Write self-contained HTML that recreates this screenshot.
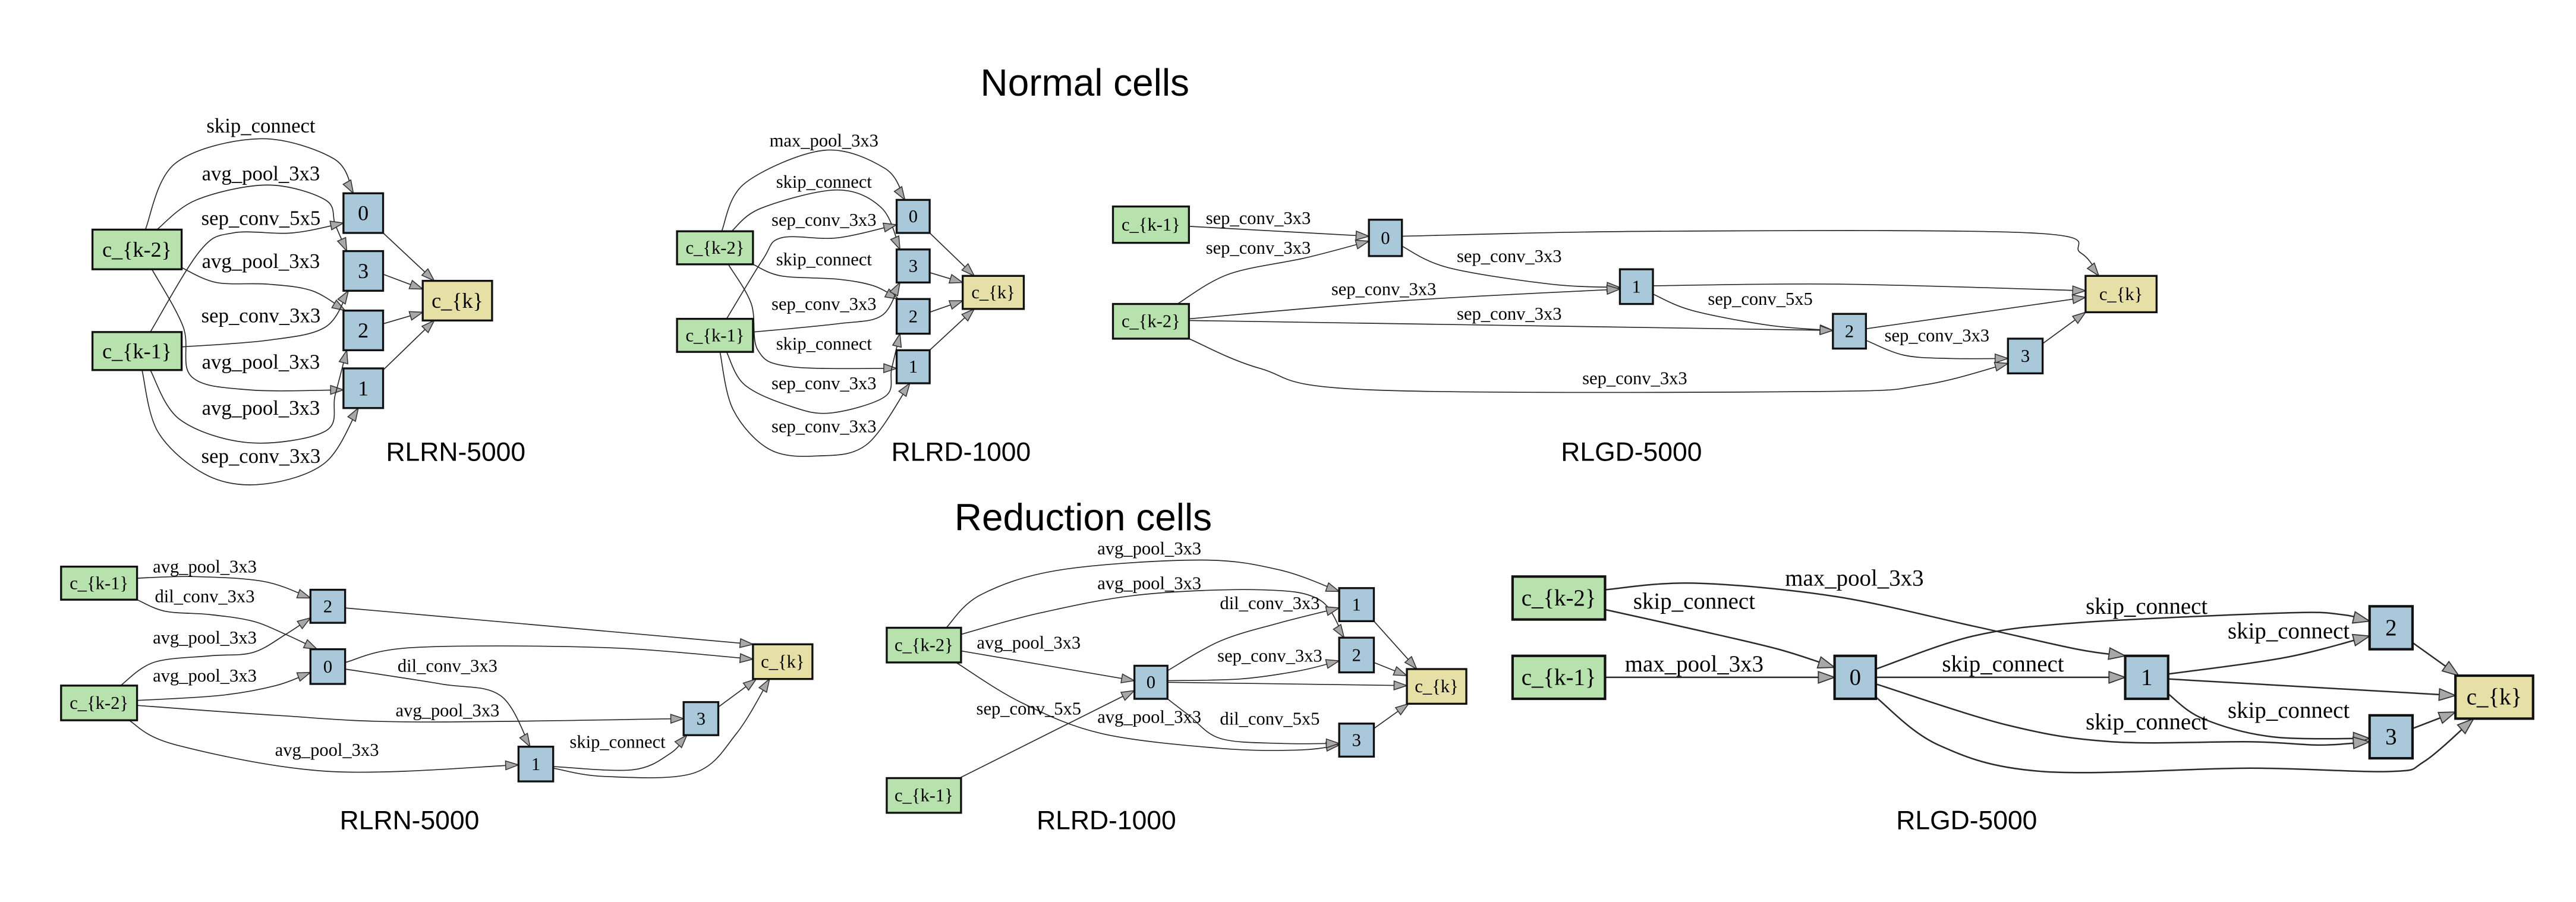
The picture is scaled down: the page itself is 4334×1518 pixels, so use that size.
<!DOCTYPE html>
<html><head><meta charset="utf-8"><style>
html,body{margin:0;padding:0;background:#fff;}
svg{display:block;}
.t{font-family:"Liberation Sans",sans-serif;fill:#000;}
.l{font-family:"Liberation Serif",serif;fill:#000;text-anchor:middle;dominant-baseline:central;}
.e{fill:none;stroke:#2a2a2a;stroke-width:0.6;}
.e6{fill:none;stroke:#2a2a2a;stroke-width:0.9;}
.g{fill:#b8e2ad;stroke:#111;stroke-width:1.2;}
.b{fill:#a9c8d9;stroke:#111;stroke-width:1.2;}
.y{fill:#e6e0a6;stroke:#111;stroke-width:1.2;}
</style></head><body>
<svg id="s" width="4334" height="1518" viewBox="0 0 1560 546" preserveAspectRatio="none" xmlns="http://www.w3.org/2000/svg">
<defs>
<marker id="ma" markerUnits="userSpaceOnUse" markerWidth="10" markerHeight="10" viewBox="-8 -3 9 6" refX="0" refY="0" orient="auto"><path d="M-7,-2.4 L0,0 L-7,2.4 Z" fill="#a8a8a8" stroke="#333" stroke-width="0.5"/></marker>
<marker id="mb" markerUnits="userSpaceOnUse" markerWidth="12" markerHeight="12" viewBox="-10 -4 11 8" refX="0" refY="0" orient="auto"><path d="M-9,-3.2 L0,0 L-9,3.2 Z" fill="#a8a8a8" stroke="#333" stroke-width="0.6"/></marker>
</defs>
<g id="edges"></g>

<text class="t" x="657" y="58" font-size="23" text-anchor="middle">Normal cells</text>
<text class="t" x="656" y="321" font-size="23" text-anchor="middle">Reduction cells</text>
<text class="t" x="276" y="279" font-size="16" text-anchor="middle">RLRN-5000</text>
<text class="t" x="582" y="279" font-size="16" text-anchor="middle">RLRD-1000</text>
<text class="t" x="988" y="279" font-size="16" text-anchor="middle">RLGD-5000</text>
<text class="t" x="248" y="502" font-size="16" text-anchor="middle">RLRN-5000</text>
<text class="t" x="670" y="502" font-size="16" text-anchor="middle">RLRD-1000</text>
<text class="t" x="1191" y="502" font-size="16" text-anchor="middle">RLGD-5000</text>

<g class="l" font-size="12.5">
<text x="158" y="76">skip_connect</text>
<text x="158" y="105">avg_pool_3x3</text>
<text x="158" y="132">sep_conv_5x5</text>
<text x="158" y="158">avg_pool_3x3</text>
<text x="158" y="191">sep_conv_3x3</text>
<text x="158" y="219">avg_pool_3x3</text>
<text x="158" y="247">avg_pool_3x3</text>
<text x="158" y="276">sep_conv_3x3</text>
</g>
<g class="l" font-size="11">
<text x="499" y="85">max_pool_3x3</text>
<text x="499" y="110">skip_connect</text>
<text x="499" y="133">sep_conv_3x3</text>
<text x="499" y="157">skip_connect</text>
<text x="499" y="184">sep_conv_3x3</text>
<text x="499" y="208">skip_connect</text>
<text x="499" y="232">sep_conv_3x3</text>
<text x="499" y="258">sep_conv_3x3</text>
</g>
<g class="l" font-size="11">
<text x="762" y="132">sep_conv_3x3</text>
<text x="762" y="150">sep_conv_3x3</text>
<text x="914" y="155">sep_conv_3x3</text>
<text x="838" y="175">sep_conv_3x3</text>
<text x="914" y="190">sep_conv_3x3</text>
<text x="1066" y="181">sep_conv_5x5</text>
<text x="1173" y="203">sep_conv_3x3</text>
<text x="990" y="229">sep_conv_3x3</text>
</g>
<g class="l" font-size="11">
<text x="124" y="343">avg_pool_3x3</text>
<text x="124" y="361">dil_conv_3x3</text>
<text x="124" y="386">avg_pool_3x3</text>
<text x="124" y="409">avg_pool_3x3</text>
<text x="271" y="403">dil_conv_3x3</text>
<text x="271" y="430">avg_pool_3x3</text>
<text x="374" y="449">skip_connect</text>
<text x="198" y="454">avg_pool_3x3</text>
</g>
<g class="l" font-size="11">
<text x="696" y="332">avg_pool_3x3</text>
<text x="696" y="353">avg_pool_3x3</text>
<text x="769" y="365">dil_conv_3x3</text>
<text x="623" y="389">avg_pool_3x3</text>
<text x="769" y="397">sep_conv_3x3</text>
<text x="623" y="429">sep_conv_5x5</text>
<text x="696" y="434">avg_pool_3x3</text>
<text x="769" y="435">dil_conv_5x5</text>
</g>
<g class="l" font-size="14">
<text x="1123" y="350">max_pool_3x3</text>
<text x="1026" y="364">skip_connect</text>
<text x="1026" y="402">max_pool_3x3</text>
<text x="1213" y="402">skip_connect</text>
<text x="1300" y="367">skip_connect</text>
<text x="1386" y="382">skip_connect</text>
<text x="1300" y="437">skip_connect</text>
<text x="1386" y="430">skip_connect</text>
</g>

<g class="l" font-size="13">
<rect class="g" x="56" y="139" width="54" height="24"/><text x="83" y="151">c_{k-2}</text>
<rect class="g" x="56" y="201" width="54" height="23"/><text x="83" y="212.5">c_{k-1}</text>
<rect class="b" x="208" y="117" width="24" height="24"/><text x="220" y="129">0</text>
<rect class="b" x="208" y="152" width="24" height="24"/><text x="220" y="164">3</text>
<rect class="b" x="208" y="188" width="24" height="24"/><text x="220" y="200">2</text>
<rect class="b" x="208" y="223" width="24" height="24"/><text x="220" y="235">1</text>
<rect class="y" x="256" y="170" width="42" height="24"/><text x="277" y="182">c_{k}</text>
</g>
<g class="l" font-size="11">
<rect class="g" x="410" y="140" width="46" height="20"/><text x="433" y="150">c_{k-2}</text>
<rect class="g" x="410" y="193" width="46" height="20"/><text x="433" y="203">c_{k-1}</text>
<rect class="b" x="543" y="121" width="20" height="20"/><text x="553" y="131">0</text>
<rect class="b" x="543" y="151" width="20" height="20"/><text x="553" y="161">3</text>
<rect class="b" x="543" y="181" width="20" height="21"/><text x="553" y="191.5">2</text>
<rect class="b" x="543" y="212" width="20" height="20"/><text x="553" y="222">1</text>
<rect class="y" x="583" y="167" width="37" height="20"/><text x="601.5" y="177">c_{k}</text>
</g>
<g class="l" font-size="11">
<rect class="g" x="674" y="125" width="46" height="22"/><text x="697" y="136">c_{k-1}</text>
<rect class="g" x="674" y="184" width="46" height="21"/><text x="697" y="194.5">c_{k-2}</text>
<rect class="b" x="829" y="133" width="20" height="22"/><text x="839" y="144">0</text>
<rect class="b" x="981" y="163" width="20" height="21"/><text x="991" y="173.5">1</text>
<rect class="b" x="1110" y="190" width="20" height="21"/><text x="1120" y="200.5">2</text>
<rect class="b" x="1216" y="205" width="21" height="21"/><text x="1226.5" y="215.5">3</text>
<rect class="y" x="1263" y="167" width="43" height="22"/><text x="1284.5" y="178">c_{k}</text>
</g>
<g class="l" font-size="11">
<rect class="g" x="37" y="343" width="46" height="20"/><text x="60" y="353">c_{k-1}</text>
<rect class="g" x="37" y="415" width="46" height="21"/><text x="60" y="425.5">c_{k-2}</text>
<rect class="b" x="188" y="357" width="21" height="20"/><text x="198.5" y="367">2</text>
<rect class="b" x="188" y="393" width="21" height="21"/><text x="198.5" y="403.5">0</text>
<rect class="b" x="414" y="425" width="21" height="20"/><text x="424.5" y="435">3</text>
<rect class="b" x="314" y="452" width="21" height="21"/><text x="324.5" y="462.5">1</text>
<rect class="y" x="456" y="390" width="36" height="21"/><text x="474" y="400.5">c_{k}</text>
</g>
<g class="l" font-size="11">
<rect class="g" x="537" y="380" width="45" height="21"/><text x="559.5" y="390.5">c_{k-2}</text>
<rect class="g" x="537" y="471" width="45" height="21"/><text x="559.5" y="481.5">c_{k-1}</text>
<rect class="b" x="687" y="403" width="20" height="20"/><text x="697" y="413">0</text>
<rect class="b" x="811" y="356" width="21" height="20"/><text x="821.5" y="366">1</text>
<rect class="b" x="811" y="386" width="21" height="21"/><text x="821.5" y="396.5">2</text>
<rect class="b" x="811" y="438" width="21" height="20"/><text x="821.5" y="448">3</text>
<rect class="y" x="852" y="405" width="36" height="21"/><text x="870" y="415.5">c_{k}</text>
</g>
<g class="l" font-size="14">
<rect class="g" x="916" y="349" width="56" height="26" style="stroke-width:1.5"/><text x="944" y="362">c_{k-2}</text>
<rect class="g" x="916" y="397" width="56" height="26" style="stroke-width:1.5"/><text x="944" y="410">c_{k-1}</text>
<rect class="b" x="1111" y="397" width="25" height="26" style="stroke-width:1.5"/><text x="1123.5" y="410">0</text>
<rect class="b" x="1287" y="397" width="26" height="26" style="stroke-width:1.5"/><text x="1300" y="410">1</text>
<rect class="b" x="1435" y="367" width="26" height="26" style="stroke-width:1.5"/><text x="1448" y="380">2</text>
<rect class="b" x="1435" y="433" width="26" height="26" style="stroke-width:1.5"/><text x="1448" y="446">3</text>
<rect class="y" x="1487" y="409" width="47" height="26" style="stroke-width:1.5"/><text x="1510.5" y="422">c_{k}</text>
</g>
</svg>
<script>
var E=[
[0,[[88,139],[106,99],[157,84],[202,96],[214,117]]],
[0,[[95,139],[119,121],[162,112],[197,121],[203,136],[210,152]]],
[0,[[91,201],[121,152],[141,141],[177,141],[208,135]]],
[0,[[110,162],[131,171],[162,172],[189,176],[209,188]]],
[0,[[110,210],[162,206],[197,198],[211,176]]],
[0,[[92,163],[111,198],[116,228],[151,236],[208,236]]],
[0,[[91,224],[109,254],[151,268],[197,261],[203,239],[210,212]]],
[0,[[86,224],[96,262],[126,288],[160,293],[197,280],[217,247]]],
[0,[[232,141],[263,170]]],[0,[[232,166],[256,175]]],[0,[[232,196],[256,189]]],[0,[[232,224],[263,194]]],
[0,[[437,140],[451,111],[499,91],[536,102],[548,121]]],
[0,[[443,140],[461,126],[507,115],[534,126],[545,151]]],
[0,[[440,193],[462,157],[473,144],[507,144],[543,136]]],
[0,[[456,160],[473,167],[507,169],[529,173],[544,181]]],
[0,[[456,201],[507,196],[534,191],[545,171]]],
[0,[[441,160],[455,184],[459,212],[479,222],[543,223]]],
[0,[[440,213],[451,233],[479,246],[503,250],[536,240],[540,223],[545,202]]],
[0,[[436,213],[444,248],[466,272],[495,276],[525,269],[551,232]]],
[0,[[563,141],[590,167]]],[0,[[563,165],[583,171]]],[0,[[563,189],[583,182]]],[0,[[563,212],[590,187]]],
[0,[[720,137],[829,143]]],
[0,[[713,184],[744,166],[791,156],[829,146]]],
[0,[[849,143],[1000,140],[1230,141],[1260,153],[1271,167]]],
[0,[[849,149],[877,162],[939,172],[981,174]]],
[0,[[720,193],[850,182],[981,175]]],
[0,[[1001,173],[1114,172],[1263,176]]],
[0,[[1001,178],[1025,188],[1072,197],[1110,200]]],
[0,[[720,194],[1110,200]]],
[0,[[1130,199],[1263,180]]],
[0,[[1130,206],[1153,215],[1181,217],[1216,217]]],
[0,[[720,205],[763,223],[830,236],[1100,237],[1165,233],[1216,220]]],
[0,[[1237,208],[1263,189]]],
[0,[[83,350],[117,349],[160,352],[188,362]]],
[0,[[83,363],[100,370],[127,372],[153,376],[173,384],[192,393]]],
[0,[[73,415],[93,401],[127,397],[153,395],[173,384],[188,374]]],
[0,[[83,424],[133,421],[167,415],[188,407]]],
[0,[[83,427],[167,433],[250,437],[414,435]]],
[0,[[78,436],[107,451],[200,467],[314,463]]],
[0,[[209,401],[250,392],[366,392],[456,399]]],
[0,[[209,405],[267,414],[303,421],[321,452]]],
[0,[[209,368],[456,390]]],
[0,[[335,464],[383,466],[406,456],[416,445]]],
[0,[[335,465],[366,470],[420,468],[446,444],[466,411]]],
[0,[[435,428],[458,411]]],
[0,[[573,380],[594,360],[642,345],[727,339],[775,345],[811,358]]],
[0,[[582,384],[630,371],[691,360],[763,357],[799,363],[814,386]]],
[0,[[582,394],[687,412]]],
[0,[[579,401],[618,425],[667,444],[739,453],[787,454],[811,451]]],
[0,[[581,471],[687,418]]],
[0,[[707,406],[739,388],[775,377],[811,368]]],
[0,[[707,412],[751,411],[787,406],[811,400]]],
[0,[[707,413],[852,415]]],
[0,[[707,423],[720,433],[739,447],[775,450],[811,450]]],
[0,[[832,376],[858,405]]],[0,[[832,401],[852,409]]],[0,[[832,441],[853,426]]],
[1,[[972,357],[1026,353],[1111,361],[1195,379],[1258,393],[1287,397]]],
[1,[[972,369],[1026,381],[1077,393],[1111,404]]],
[1,[[972,410],[1111,410]]],
[1,[[1136,410],[1287,410]]],
[1,[[1136,405],[1195,385],[1258,377],[1384,371],[1418,372],[1435,376]]],
[1,[[1313,408],[1384,398],[1435,385]]],
[1,[[1313,411],[1487,421]]],
[1,[[1313,420],[1334,435],[1376,446],[1435,447]]],
[1,[[1136,414],[1216,439],[1279,449],[1363,449],[1405,451],[1435,449]]],
[1,[[1136,422],[1174,451],[1237,467],[1363,465],[1447,467],[1468,461],[1498,435]]],
[1,[[1461,389],[1489,409]]],
[1,[[1461,441],[1487,431]]]
];
function cr(p){
  var d="M"+p[0][0]+","+p[0][1];
  if(p.length==2){return d+" L"+p[1][0]+","+p[1][1];}
  for(var i=0;i<p.length-1;i++){
    var a=p[i-1]||p[i],b=p[i],c=p[i+1],n=p[i+2]||p[i+1];
    var c1=[b[0]+(c[0]-a[0])/6,b[1]+(c[1]-a[1])/6];
    var c2=[c[0]-(n[0]-b[0])/6,c[1]-(n[1]-b[1])/6];
    d+=" C"+c1[0].toFixed(2)+","+c1[1].toFixed(2)+" "+c2[0].toFixed(2)+","+c2[1].toFixed(2)+" "+c[0]+","+c[1];
  }
  return d;
}
var g=document.getElementById("edges"),ns="http://www.w3.org/2000/svg";
E.forEach(function(e){
  var p=document.createElementNS(ns,"path");
  p.setAttribute("d",cr(e[1]));
  p.setAttribute("class",e[0]?"e6":"e");
  p.setAttribute("marker-end",e[0]?"url(#mb)":"url(#ma)");
  g.appendChild(p);
});
</script>
</body></html>
